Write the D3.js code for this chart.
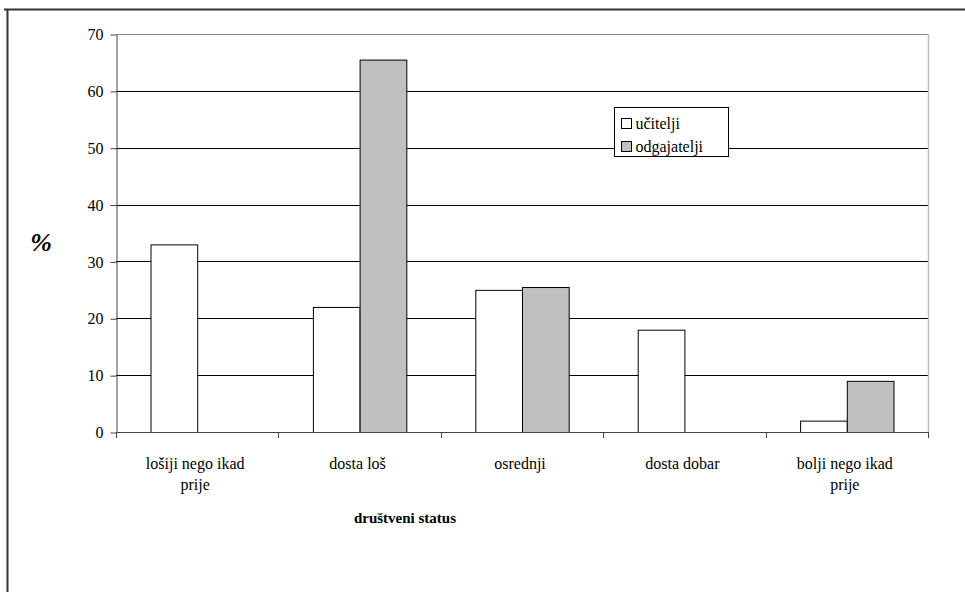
<!DOCTYPE html>
<html>
<head>
<meta charset="utf-8">
<script src="https://cdn.jsdelivr.net/npm/d3@7"></script>
</head>
<body style="margin:0">
<svg id="chart" width="965" height="592" font-family="Liberation Serif"></svg>
<script>
const categories = [["lošiji nego ikad","prije"],["dosta loš"],["osrednji"],["dosta dobar"],["bolji nego ikad","prije"]];
const seriesNames = ["učitelji","odgajatelji"];
const ucitelji = [33, 22, 25, 18, 2];
const odgajatelji = [0, 65.5, 25.5, 0, 9];
const yTicks = [0,10,20,30,40,50,60,70];
const colors = ["#ffffff","#c0c0c0"];
const FONT = "Liberation Serif";

const svg = d3.select("#chart");
const m = {left:116, right:928, top:34, bottom:432};

// outer frame
svg.append("line").attr("x1",4).attr("x2",965).attr("y1",9.5).attr("y2",9.5).attr("stroke","#333").attr("stroke-width",2);
svg.append("line").attr("x1",7.5).attr("x2",7.5).attr("y1",9).attr("y2",592).attr("stroke","#333").attr("stroke-width",2);

const x0 = d3.scaleBand().domain(d3.range(categories.length)).range([m.left,m.right]).paddingInner(0).paddingOuter(0);
const groupPad = 34.5;
const x1 = d3.scaleBand().domain(seriesNames).range([groupPad, x0.bandwidth()-groupPad]);
const y = d3.scaleLinear().domain([0,70]).range([m.bottom,m.top]);

// gridlines
svg.append("g").selectAll("line").data(yTicks.filter(t=>t>0)).join("line")
  .attr("x1",m.left).attr("x2",m.right)
  .attr("y1",d=>Math.round(y(d))+0.5).attr("y2",d=>Math.round(y(d))+0.5)
  .attr("stroke",d=>d===70?"#888":"#000").attr("stroke-width",1);
// right border of plot
svg.append("line").attr("x1",m.right+0.5).attr("x2",m.right+0.5).attr("y1",m.top).attr("y2",m.bottom)
  .attr("stroke","#bbb").attr("stroke-width",1.5);

// bars
const data = categories.map((c,i)=>({i, vals:[ucitelji[i],odgajatelji[i]]}));
const g = svg.append("g");
data.forEach(d=>{
  d.vals.forEach((v,k)=>{
    if(v<=0) return;
    g.append("rect")
      .attr("x",x0(d.i)+x1(seriesNames[k])+0.5)
      .attr("y",y(v)+0.5)
      .attr("width",x1.bandwidth())
      .attr("height",y(0)-y(v))
      .attr("fill",colors[k]).attr("stroke","#000").attr("stroke-width",1);
  });
});

// y axis
const yAxis = d3.axisLeft(y).tickValues(yTicks).tickSize(6).tickPadding(7).tickSizeOuter(0);
const ya = svg.append("g").attr("transform",`translate(${m.left+0.5},0.5)`).call(yAxis);
ya.attr("font-family",FONT).attr("font-size",16);
ya.select(".domain").attr("stroke","#444");
ya.selectAll(".tick line").attr("stroke","#444");
ya.selectAll("text").attr("fill","#000").attr("font-family",FONT).attr("font-size",16);

// x axis
const xTickPos = d3.range(categories.length+1).map(i=>m.left+i*x0.bandwidth());
const xa = svg.append("g");
xa.append("line").attr("x1",m.left).attr("x2",m.right).attr("y1",m.bottom+0.5).attr("y2",m.bottom+0.5).attr("stroke","#444");
xa.selectAll("line.t").data(xTickPos).join("line").attr("class","t")
  .attr("x1",d=>Math.round(d)+0.5).attr("x2",d=>Math.round(d)+0.5)
  .attr("y1",m.bottom).attr("y2",m.bottom+6).attr("stroke","#444");

// category labels
const cl = svg.append("g");
categories.forEach((c,i)=>{
  const cx = x0(i)+x0.bandwidth()/2 - 2;
  c.forEach((line,j)=>{
    cl.append("text").attr("x",cx).attr("y",469+j*21)
      .attr("text-anchor","middle").attr("font-family",FONT).attr("font-size",16).text(line);
  });
});

// axis titles
svg.append("text").attr("x",(m.left+m.right)/2-117).attr("y",523).attr("text-anchor","middle")
  .attr("font-family",FONT).attr("font-size",15).attr("font-weight","bold").text("društveni status");
svg.append("text").attr("x",41).attr("y",251).attr("text-anchor","middle")
  .attr("font-family",FONT).attr("font-size",26).attr("font-weight","bold").attr("font-style","italic").text("%");

// legend
const lg = svg.append("g").attr("transform","translate(614.5,107.5)");
lg.append("rect").attr("width",114).attr("height",49).attr("fill","#fff").attr("stroke","#000").attr("stroke-width",1);
seriesNames.forEach((s,k)=>{
  lg.append("rect").attr("x",7).attr("y",11+k*23).attr("width",10).attr("height",10)
    .attr("fill",colors[k]).attr("stroke","#000");
  lg.append("text").attr("x",21).attr("y",21+k*23).attr("font-family",FONT).attr("font-size",16).text(s);
});
</script>
</body>
</html>
